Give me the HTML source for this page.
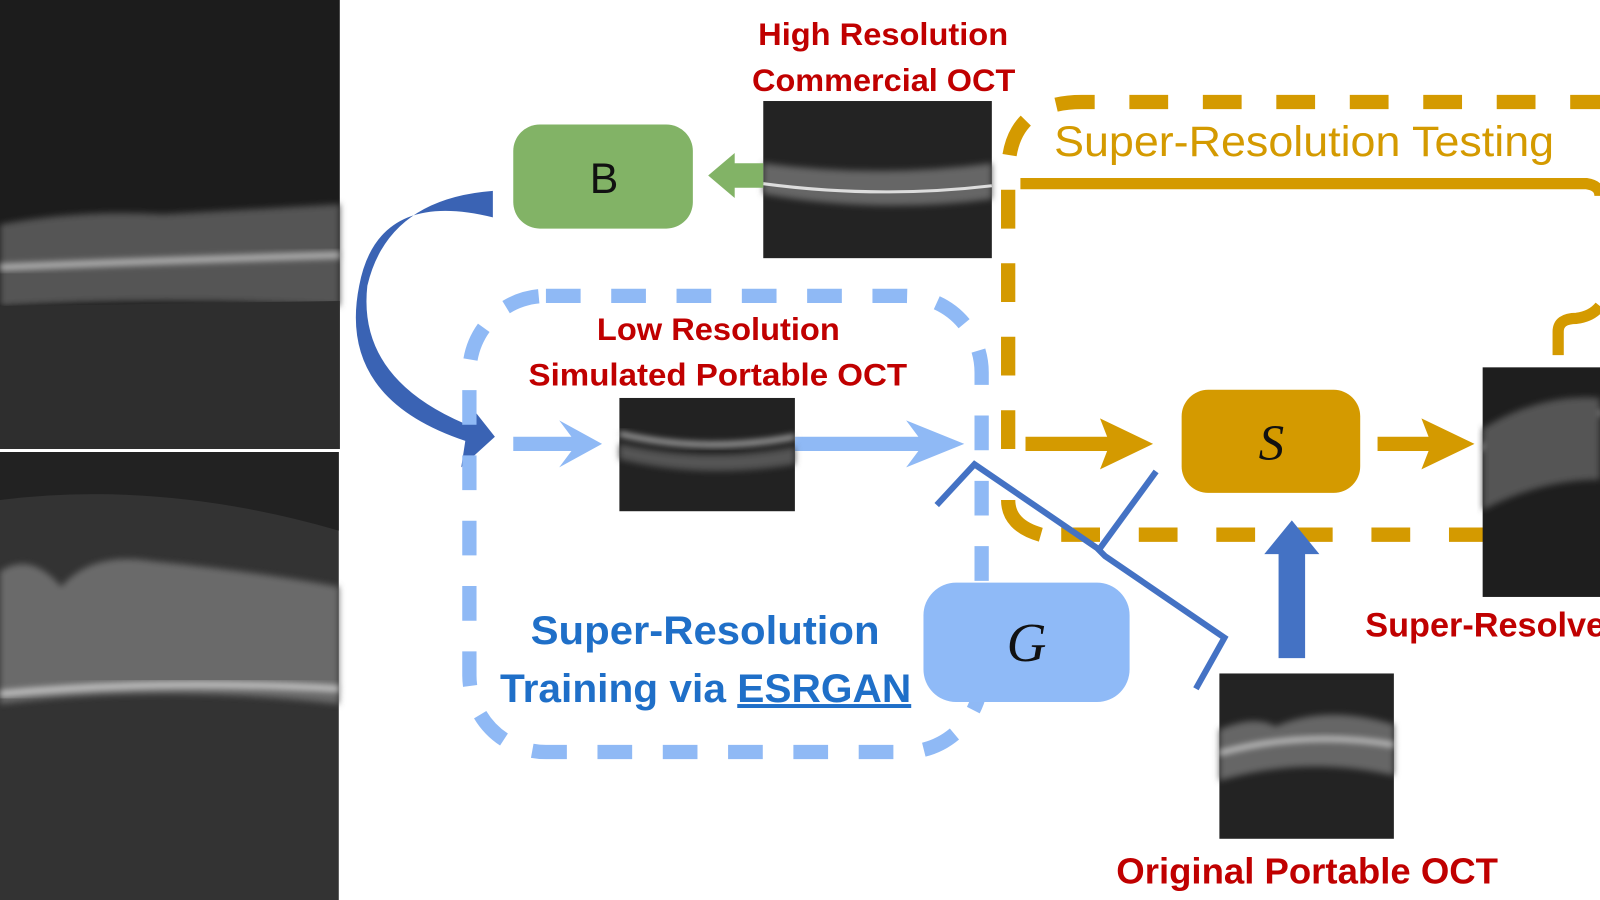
<!DOCTYPE html>
<html><head><meta charset="utf-8"><style>
html,body{margin:0;padding:0;background:#fff;width:1600px;height:900px;overflow:hidden}
svg{display:block}
text{font-family:"Liberation Sans",sans-serif}
</style></head><body>
<svg width="1600" height="900" viewBox="0 0 1568 882" preserveAspectRatio="none" xmlns="http://www.w3.org/2000/svg">
<defs>
<filter id="blur2" x="-5%" y="-50%" width="110%" height="200%"><feGaussianBlur stdDeviation="3"/></filter>
</defs>
<!-- Left OCT images -->
<rect x="0" y="0" width="333" height="440" fill="#1c1c1c"/>
<path d="M0 220 Q80 205 160 210 Q250 205 333 200 L333 300 Q160 290 0 300Z" fill="#555" filter="url(#blur2)"/>
<path d="M0 262 Q160 255 333 250" stroke="#bbb" stroke-width="6" fill="none" filter="url(#blur2)"/>
<path d="M0 300 L333 295 L333 440 L0 440Z" fill="#2e2e2e"/>
<rect x="0" y="443" width="332" height="439" fill="#333"/>
<path d="M0 443 L332 443 L332 520 Q160 470 0 490Z" fill="#222"/>
<path d="M0 560 Q30 540 60 575 Q90 540 150 550 Q250 560 332 575 L332 690 Q160 670 0 690Z" fill="#6a6a6a" filter="url(#blur2)"/>
<path d="M0 680 Q160 665 332 675" stroke="#ccc" stroke-width="6" fill="none" filter="url(#blur2)"/>

<!-- High res label -->
<text x="743" y="44" font-size="31" font-weight="bold" fill="#c00000" textLength="245" lengthAdjust="spacingAndGlyphs">High Resolution</text>
<text x="737" y="89" font-size="31" font-weight="bold" fill="#c00000" textLength="258" lengthAdjust="spacingAndGlyphs">Commercial OCT</text>
<!-- HR image -->
<rect x="748" y="99" width="224" height="154" fill="#232323"/>
<path d="M748 160 Q860 175 972 160 L972 195 Q860 210 748 190Z" fill="#666" filter="url(#blur2)"/>
<path d="M748 180 Q860 195 972 182" stroke="#ddd" stroke-width="3" fill="none"/>
<!-- B box -->
<rect x="503" y="122" width="176" height="102" rx="26" fill="#82b366"/>
<text x="592" y="189" font-size="42" fill="#111" text-anchor="middle">B</text>
<!-- green arrow -->
<polygon points="748,160 720,160 720,150 694,172 720,194 720,184 748,184" fill="#82b366"/>

<!-- big curved blue arrow -->
<path d="M483 187 Q380 195 360 280 Q350 370 455 415 L455 390 L485 428 L452 458 L456 432 Q330 390 352 280 Q370 185 483 213Z" fill="#3a63b4"/>

<!-- Blue dashed box -->
<rect x="460" y="290" width="502" height="447" rx="75" fill="none" stroke="#8fb9f5" stroke-width="14" stroke-dasharray="34 30"/>
<text x="585" y="333" font-size="31" font-weight="bold" fill="#c00000" textLength="238" lengthAdjust="spacingAndGlyphs">Low Resolution</text>
<text x="518" y="378" font-size="31" font-weight="bold" fill="#c00000" textLength="371" lengthAdjust="spacingAndGlyphs">Simulated Portable OCT</text>
<!-- LR arrows -->
<polygon points="503,428 560,428 548,412 590,435 548,458 560,442 503,442" fill="#8fb9f5"/>
<polygon points="779,428 900,428 888,412 945,435 888,458 900,442 779,442" fill="#8fb9f5"/>
<rect x="607" y="390" width="172" height="111" fill="#222"/>
<path d="M607 425 Q690 445 779 428" stroke="#ccc" stroke-width="4" fill="none" filter="url(#blur2)"/>
<path d="M607 435 Q690 455 779 438 L779 455 Q690 470 607 450Z" fill="#555" filter="url(#blur2)"/>
<!-- G box -->
<rect x="905" y="571" width="202" height="117" rx="32" fill="#8fbaf7"/>
<text x="1006" y="648" font-size="54" font-style="italic" fill="#111" text-anchor="middle" style="font-family:'Liberation Serif',serif">G</text>
<text x="520" y="631" font-size="39" font-weight="bold" fill="#1f6fc8" textLength="342" lengthAdjust="spacingAndGlyphs">Super-Resolution</text>
<text x="490" y="688" font-size="39" font-weight="bold" fill="#1f6fc8" textLength="403" lengthAdjust="spacingAndGlyphs">Training via <tspan text-decoration="underline">ESRGAN</tspan></text>

<!-- Gold dashed testing box -->
<path d="M988 440 L988 170 Q988 100 1060 100 L1568 100" fill="none" stroke="#d49a00" stroke-width="14" stroke-dasharray="38 34"/>
<path d="M1020 524 Q988 515 988 490" fill="none" stroke="#d49a00" stroke-width="14"/>
<line x1="1040" y1="524" x2="1455" y2="524" stroke="#d49a00" stroke-width="14" stroke-dasharray="38 38"/>
<path d="M1000 180 L1555 180 Q1568 182 1568 192" fill="none" stroke="#d49a00" stroke-width="11"/>
<path d="M1527 348 L1527 325 Q1527 312 1545 312 Q1560 310 1568 300" fill="none" stroke="#d49a00" stroke-width="11"/>
<text x="1033" y="153" font-size="42" fill="#d49a00" textLength="490" lengthAdjust="spacingAndGlyphs">Super-Resolution Testing</text>
<!-- gold arrows -->
<polygon points="1005,428 1085,428 1078,410 1130,435 1078,460 1085,442 1005,442" fill="#d49a00"/>
<rect x="1158" y="382" width="175" height="101" rx="26" fill="#d49a00"/>
<text x="1246" y="451" font-size="50" font-style="italic" fill="#111" text-anchor="middle" style="font-family:'Liberation Serif',serif">S</text>
<polygon points="1350,428 1400,428 1393,410 1445,435 1393,460 1400,442 1350,442" fill="#d49a00"/>
<!-- SR image -->
<rect x="1453" y="360" width="115" height="225" fill="#1e1e1e"/>
<path d="M1453 440 Q1510 400 1568 405" stroke="#ddd" stroke-width="5" fill="none" filter="url(#blur2)"/>
<path d="M1453 420 Q1510 385 1568 390 L1568 470 Q1510 470 1453 500Z" fill="#555" filter="url(#blur2)"/>
<text x="1338" y="624" font-size="34" font-weight="bold" fill="#c00000" textLength="235" lengthAdjust="spacingAndGlyphs">Super-Resolve</text>

<!-- blue bracket lines -->
<polyline points="918,495 955,455 1075,537 1083,545 1200,625 1172,675" fill="none" stroke="#4472c4" stroke-width="6"/>
<line x1="1133" y1="462" x2="1076" y2="540" stroke="#4472c4" stroke-width="6"/>
<!-- up arrow -->
<polygon points="1253,645 1279,645 1279,543 1293,543 1266,510 1239,543 1253,543" fill="#4472c4"/>
<!-- Original portable image -->
<rect x="1195" y="660" width="171" height="162" fill="#232323"/>
<path d="M1195 715 Q1230 700 1250 712 Q1300 690 1366 710 L1366 760 Q1280 740 1195 765Z" fill="#666" filter="url(#blur2)"/>
<path d="M1195 738 Q1280 715 1366 730" stroke="#ddd" stroke-width="4" fill="none" filter="url(#blur2)"/>
<text x="1094" y="866" font-size="35" font-weight="bold" fill="#c00000" textLength="374" lengthAdjust="spacingAndGlyphs">Original Portable OCT</text>
</svg>
</body></html>
